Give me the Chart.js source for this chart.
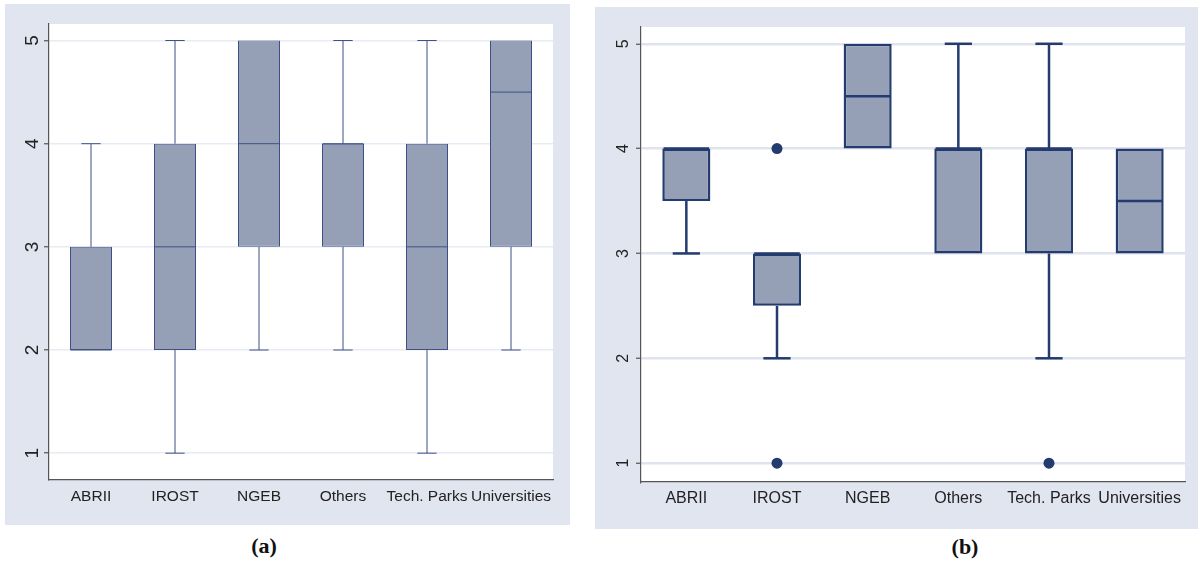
<!DOCTYPE html>
<html><head><meta charset="utf-8">
<script src="https://cdn.jsdelivr.net/npm/chart.js@4.4.1/dist/chart.umd.min.js"></script>
<style>
body{margin:0;background:#fff;width:1198px;height:563px;position:relative;overflow:hidden;font-family:'Liberation Sans',Arial,sans-serif}
.panel{position:absolute;background:#e1e5f0}
#pa{left:5px;top:4px;width:565px;height:521px}
#pb{left:595px;top:7px;width:603px;height:522px}
canvas{display:block}
.cap{position:absolute;font-family:'Liberation Serif','Times New Roman',serif;font-weight:bold;font-size:22px;color:#111;transform:translate(-50%,-50%);white-space:nowrap}
</style></head><body>
<div class="panel" id="pa"><canvas id="ca" width="565" height="521"></canvas></div>
<div class="panel" id="pb"><canvas id="cb" width="603" height="522"></canvas></div>
<div class="cap" style="left:264px;top:546px">(a)</div>
<div class="cap" style="left:965px;top:547px">(b)</div>
<script>
// ---------- data ----------
const categories = ['ABRII', 'IROST', 'NGEB', 'Others', 'Tech. Parks', 'Universities'];
const yTicks = [1, 2, 3, 4, 5];

// panel (a)
const aMin = [2, 1, 2, 2, 1, 2];
const aQ1  = [2, 2, 3, 3, 2, 3];
const aMed = [2, 3, 4, 4, 3, 4.5];
const aQ3  = [3, 4, 5, 4, 4, 5];
const aMax = [4, 5, 5, 5, 5, 5];

// panel (b)
const bMin = [3, 2, 4, 3, 2, 3];
const bQ1  = [3.5, 2.5, 4, 3, 3, 3];
const bMed = [4, 3, 4.5, 4, 4, 3.5];
const bQ3  = [4, 3, 5, 4, 4, 4];
const bMax = [4, 3, 5, 5, 5, 4];
const bOutlierCats = ['IROST', 'IROST', 'Tech. Parks'];
const bOutlierVals = [4, 1, 1];

// ---------- plugins ----------
const plotBg = {
  id: 'plotBg',
  beforeDraw(chart) {
    const {ctx, chartArea: a} = chart;
    ctx.save();
    ctx.fillStyle = '#ffffff';
    ctx.fillRect(a.left, a.top, a.right - a.left, a.bottom - a.top);
    ctx.restore();
  }
};

const boxplot = {
  id: 'boxplot',
  beforeDatasetsDraw(chart) {
    const o = chart.options.plugins.boxplot;
    const xs = chart.scales.x, ys = chart.scales.y, ctx = chart.ctx;
    const band = xs.getPixelForValue(1) - xs.getPixelForValue(0);
    ctx.save();
    ctx.strokeStyle = o.color;
    ctx.lineWidth = o.lineWidth;
    ctx.lineCap = 'butt';
    for (let i = 0; i < o.q1.length; i++) {
      const x = xs.getPixelForValue(i);
      const half = band * o.capFrac / 2;
      if (o.max[i] > o.q3[i]) {
        ctx.beginPath();
        ctx.moveTo(x, ys.getPixelForValue(o.q3[i]));
        ctx.lineTo(x, ys.getPixelForValue(o.max[i]));
        ctx.stroke();
        ctx.beginPath();
        ctx.moveTo(x - half, ys.getPixelForValue(o.max[i]));
        ctx.lineTo(x + half, ys.getPixelForValue(o.max[i]));
        ctx.stroke();
      }
      if (o.min[i] < o.q1[i]) {
        ctx.beginPath();
        ctx.moveTo(x, ys.getPixelForValue(o.q1[i]));
        ctx.lineTo(x, ys.getPixelForValue(o.min[i]));
        ctx.stroke();
        ctx.beginPath();
        ctx.moveTo(x - half, ys.getPixelForValue(o.min[i]));
        ctx.lineTo(x + half, ys.getPixelForValue(o.min[i]));
        ctx.stroke();
      }
    }
    ctx.restore();
  },
  afterDatasetsDraw(chart) {
    const o = chart.options.plugins.boxplot;
    const xs = chart.scales.x, ys = chart.scales.y, ctx = chart.ctx;
    const meta = chart.getDatasetMeta(0);
    ctx.save();
    ctx.strokeStyle = o.color;
    ctx.lineWidth = o.lineWidth;
    for (let i = 0; i < o.med.length; i++) {
      const el = meta.data[i];
      const x = xs.getPixelForValue(i);
      const w = el.width / 2 - o.lineWidth / 2;
      const y = ys.getPixelForValue(o.med[i]);
      ctx.beginPath();
      ctx.moveTo(x - w, y);
      ctx.lineTo(x + w, y);
      ctx.stroke();
    }
    ctx.restore();
  }
};

Chart.defaults.font.family = "'Liberation Sans', Arial, sans-serif";

function makeChart(id, q1, q3, med, mn, mx, st) {
  const datasets = [{
    type: 'bar',
    data: categories.map((c, i) => [q1[i], q3[i]]),
    backgroundColor: '#95a0b7',
    borderColor: st.boxBorder,
    borderWidth: st.boxBorderWidth,
    borderSkipped: false,
    categoryPercentage: 1,
    barPercentage: st.barFrac,
    order: 2
  }];
  if (st.outCats) {
    datasets.push({
      type: 'scatter',
      data: st.outCats.map((c, i) => ({x: c, y: st.outVals[i]})),
      backgroundColor: st.boxBorder,
      borderWidth: 0,
      pointRadius: 5.5,
      order: 1
    });
  }
  return new Chart(document.getElementById(id), {
    data: {labels: categories, datasets},
    options: {
      responsive: false,
      animation: false,
      devicePixelRatio: 1,
      layout: {padding: {top: st.padTop, right: st.padRight, left: 0, bottom: 0}},
      plugins: {
        legend: {display: false},
        tooltip: {enabled: false},
        boxplot: {q1, q3, med, min: mn, max: mx, color: st.boxBorder, lineWidth: st.lineWidth, capFrac: st.capFrac}
      },
      scales: {
        x: {
          type: 'category',
          offset: true,
          grid: {display: false, drawTicks: false, tickLength: 0},
          border: {display: true, color: '#555555', width: 1.2},
          ticks: {font: {size: st.xFont}, color: '#222222', padding: st.xPad, maxRotation: 0, autoSkip: false},
          afterFit: s => { s.height = st.xHeight; }
        },
        y: {
          type: 'linear',
          min: st.yMin, max: st.yMax,
          afterBuildTicks: s => { s.ticks = yTicks.map(v => ({value: v})); },
          grid: {color: st.gridColor, lineWidth: st.gridWidth, tickColor: '#555555', tickWidth: 1.2, tickLength: 5, drawTicks: true},
          border: {display: true, color: '#555555', width: 1.2},
          ticks: {minRotation: 90, maxRotation: 90, crossAlign: 'center', padding: st.yPad, font: {size: st.yFont}, color: '#222222'},
          afterFit: s => { s.width = st.yWidth; }
        }
      }
    },
    plugins: [plotBg, boxplot]
  });
}

makeChart('ca', aQ1, aQ3, aMed, aMin, aMax, {
  boxBorder: '#3e5086', boxBorderWidth: 1, lineWidth: 1, barFrac: 0.5, capFrac: 0.23,
  padTop: 20, padRight: 17, xHeight: 45, yWidth: 44, yMin: 0.74, yMax: 5.16,
  gridColor: '#e8ebf3', gridWidth: 1.5, xFont: 15.5, xPad: 7, yPad: 6, yFont: 19
});

makeChart('cb', bQ1, bQ3, bMed, bMin, bMax, {
  boxBorder: '#233b6e', boxBorderWidth: 2.5, lineWidth: 2.5, barFrac: 0.53, capFrac: 0.3,
  padTop: 20, padRight: 13, xHeight: 47, yWidth: 46, yMin: 0.82, yMax: 5.16,
  gridColor: '#dfe3ef', gridWidth: 2.5, xFont: 16, xPad: 7, yPad: 8, yFont: 16,
  outCats: bOutlierCats, outVals: bOutlierVals
});
</script>
</body></html>
